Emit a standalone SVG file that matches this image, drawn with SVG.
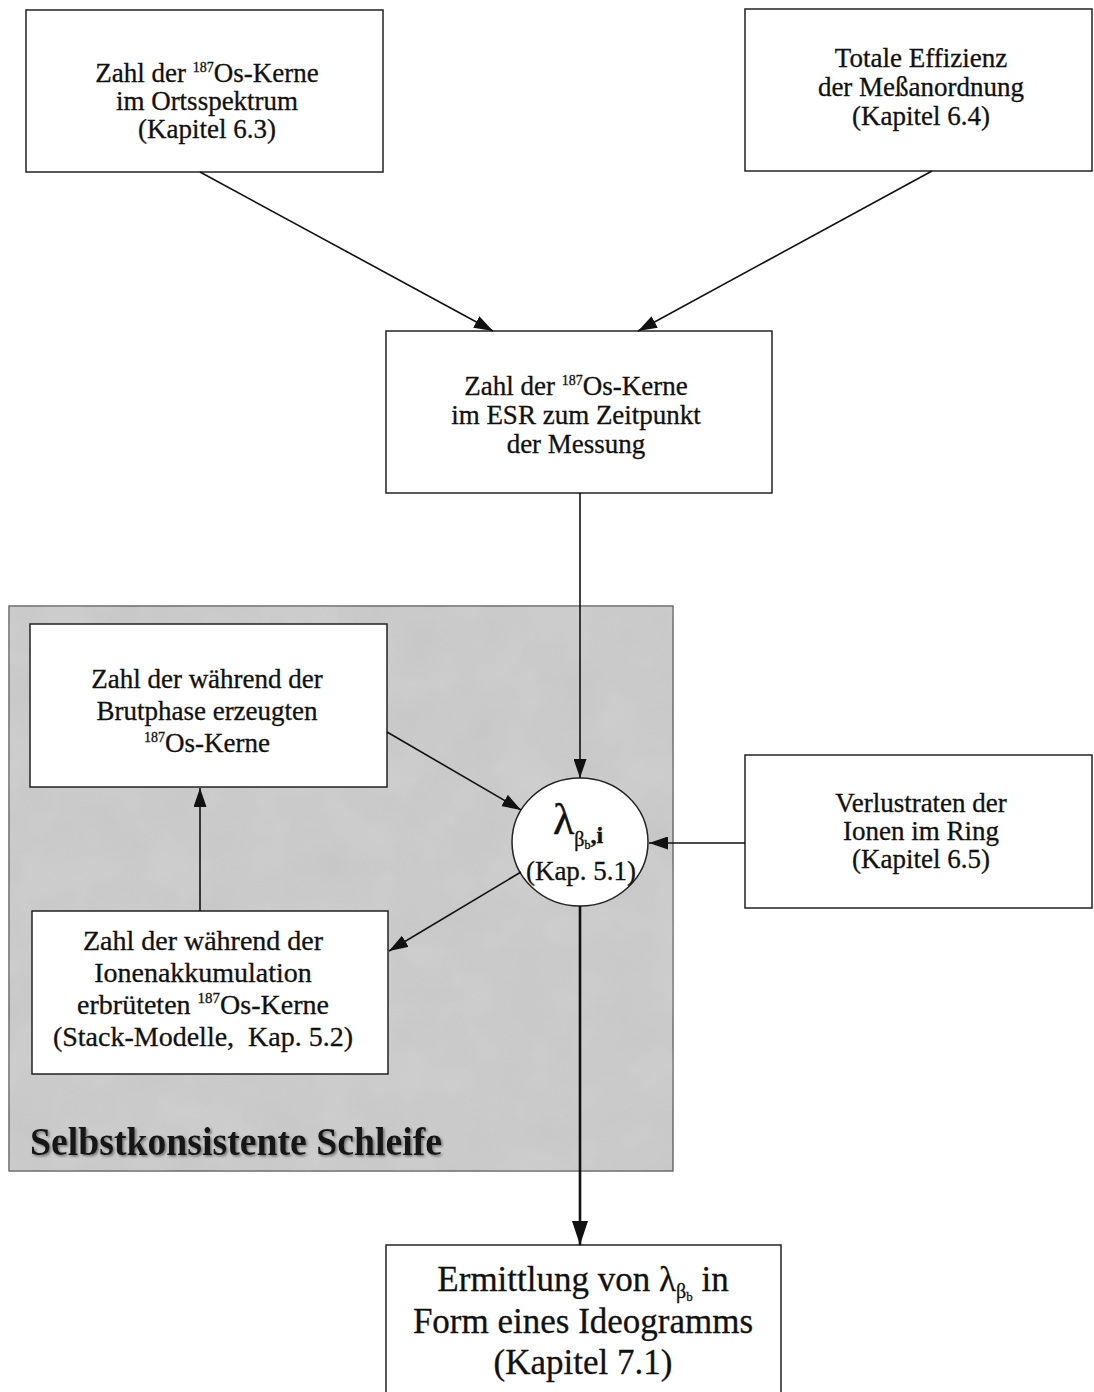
<svg xmlns="http://www.w3.org/2000/svg" width="1094" height="1392" viewBox="0 0 1094 1392">
<style>
.box{fill:#ffffff;stroke:#222;stroke-width:1.5}
.t{font-family:"Liberation Serif","Times New Roman",serif;font-size:27px;fill:#111;stroke:#111;stroke-width:0.3;text-anchor:middle}
.big{font-family:"Liberation Serif","Times New Roman",serif;font-size:35px;fill:#111;stroke:#111;stroke-width:0.3;text-anchor:middle}
.conn{stroke:#111;stroke-width:1.6;fill:none}
.thick{stroke:#111;stroke-width:2.6;fill:none}
.title{font-family:"Liberation Serif","Times New Roman",serif;font-size:40px;font-weight:bold;fill:#151515}
</style>
<defs>
<marker id="ah" markerWidth="19" markerHeight="13" refX="19" refY="6.5" orient="auto" markerUnits="userSpaceOnUse">
<path d="M0,0 L19,6.5 L0,13 Z" fill="#111"/>
</marker>
<marker id="ahb" markerWidth="24" markerHeight="16" refX="24" refY="8" orient="auto" markerUnits="userSpaceOnUse">
<path d="M0,0 L24,8 L0,16 Z" fill="#111"/>
</marker>
<filter id="noise" x="0" y="0" width="100%" height="100%">
<feTurbulence type="fractalNoise" baseFrequency="0.02" numOctaves="3" seed="4" result="n"/>
<feColorMatrix in="n" type="matrix" values="0 0 0 0 0.74  0 0 0 0 0.74  0 0 0 0 0.74  0 0 0 0.6 0" result="c"/>
<feComposite in="c" in2="SourceGraphic" operator="in"/>
</filter>
<filter id="shadow" x="-5%" y="-20%" width="110%" height="140%">
<feDropShadow dx="1.5" dy="1.5" stdDeviation="0.8" flood-color="#666" flood-opacity="0.9"/>
</filter>
</defs>

<g id="loop">
<rect x="9" y="606" width="664" height="565" fill="#c6c6c6" stroke="#444" stroke-width="1.2"/>
<rect x="9" y="606" width="664" height="565" fill="#c6c6c6" filter="url(#noise)" opacity="0.6"/>
<text class="title" x="30" y="1155" textLength="412" lengthAdjust="spacingAndGlyphs" filter="url(#shadow)">Selbstkonsistente Schleife</text>
</g>

<g id="n_orts">
<rect class="box" x="26" y="10" width="357" height="162"/>
<text class="t" x="207" y="82">Zahl der <tspan font-size="14" dy="-10">187</tspan><tspan dy="10">Os-Kerne</tspan></text>
<text class="t" x="207" y="110">im Ortsspektrum</text>
<text class="t" x="207" y="138">(Kapitel 6.3)</text>
</g>

<g id="n_eff">
<rect class="box" x="745" y="9" width="347" height="162"/>
<text class="t" x="921" y="67">Totale Effizienz</text>
<text class="t" x="921" y="96">der Meßanordnung</text>
<text class="t" x="921" y="125">(Kapitel 6.4)</text>
</g>

<g id="n_esr">
<rect class="box" x="386" y="331" width="386" height="162"/>
<text class="t" x="576" y="395">Zahl der <tspan font-size="14" dy="-10">187</tspan><tspan dy="10">Os-Kerne</tspan></text>
<text class="t" x="576" y="424">im ESR zum Zeitpunkt</text>
<text class="t" x="576" y="453">der Messung</text>
</g>

<g id="n_brut">
<rect class="box" x="30" y="624" width="357" height="163"/>
<text class="t" x="207" y="688">Zahl der während der</text>
<text class="t" x="207" y="720">Brutphase erzeugten</text>
<text class="t" x="207" y="752"><tspan font-size="14" dy="-10">187</tspan><tspan dy="10">Os-Kerne</tspan></text>
</g>

<g id="n_stack">
<rect class="box" x="32" y="911" width="356" height="163"/>
<text class="t" x="203" y="950" style="font-size:28px">Zahl der während der</text>
<text class="t" x="203" y="982" style="font-size:28px">Ionenakkumulation</text>
<text class="t" x="203" y="1014" style="font-size:28px">erbrüteten <tspan font-size="15" dy="-11">187</tspan><tspan dy="11">Os-Kerne</tspan></text>
<text class="t" x="203" y="1046" style="font-size:28px" xml:space="preserve">(Stack-Modelle,  Kap. 5.2)</text>
</g>

<g id="n_lambda">
<ellipse cx="580" cy="842" rx="68" ry="64" fill="#ffffff" stroke="#222" stroke-width="1.5"/>
<text x="553" y="834" font-family="Liberation Serif, serif" font-size="44" fill="#111" stroke="#111" stroke-width="0.4">λ<tspan font-size="20" dy="12">β</tspan><tspan font-size="12" dy="3">b</tspan><tspan font-size="24" dy="-6" font-weight="bold">,i</tspan></text>
<text class="t" x="581" y="880" style="font-size:27px">(Kap. 5.1)</text>
</g>

<g id="n_verlust">
<rect class="box" x="745" y="755" width="347" height="153"/>
<text class="t" x="921" y="812">Verlustraten der</text>
<text class="t" x="921" y="840">Ionen im Ring</text>
<text class="t" x="921" y="868">(Kapitel 6.5)</text>
</g>

<g id="n_result">
<rect class="box" x="386" y="1245" width="395" height="160"/>
<text class="big" x="583" y="1291">Ermittlung von λ<tspan font-size="20" dy="7">β</tspan><tspan font-size="13" dy="3">b</tspan><tspan dy="-10"> in</tspan></text>
<text class="big" x="583" y="1333">Form eines Ideogramms</text>
<text class="big" x="583" y="1374">(Kapitel 7.1)</text>
</g>

<g id="connectors">
<line class="conn" x1="200" y1="172" x2="493" y2="331" marker-end="url(#ah)"/>
<line class="conn" x1="932" y1="171" x2="638" y2="331" marker-end="url(#ah)"/>
<line class="conn" x1="580" y1="493" x2="580" y2="778" marker-end="url(#ah)"/>
<line class="conn" x1="745" y1="843" x2="649" y2="843" marker-end="url(#ah)"/>
<line class="conn" x1="387" y1="732" x2="521" y2="810" marker-end="url(#ah)"/>
<line class="conn" x1="521" y1="872" x2="389" y2="951" marker-end="url(#ah)"/>
<line class="conn" x1="200" y1="911" x2="200" y2="788" marker-end="url(#ah)"/>
<line class="thick" x1="580" y1="906" x2="580" y2="1245" marker-end="url(#ahb)"/>
</g>
</svg>
